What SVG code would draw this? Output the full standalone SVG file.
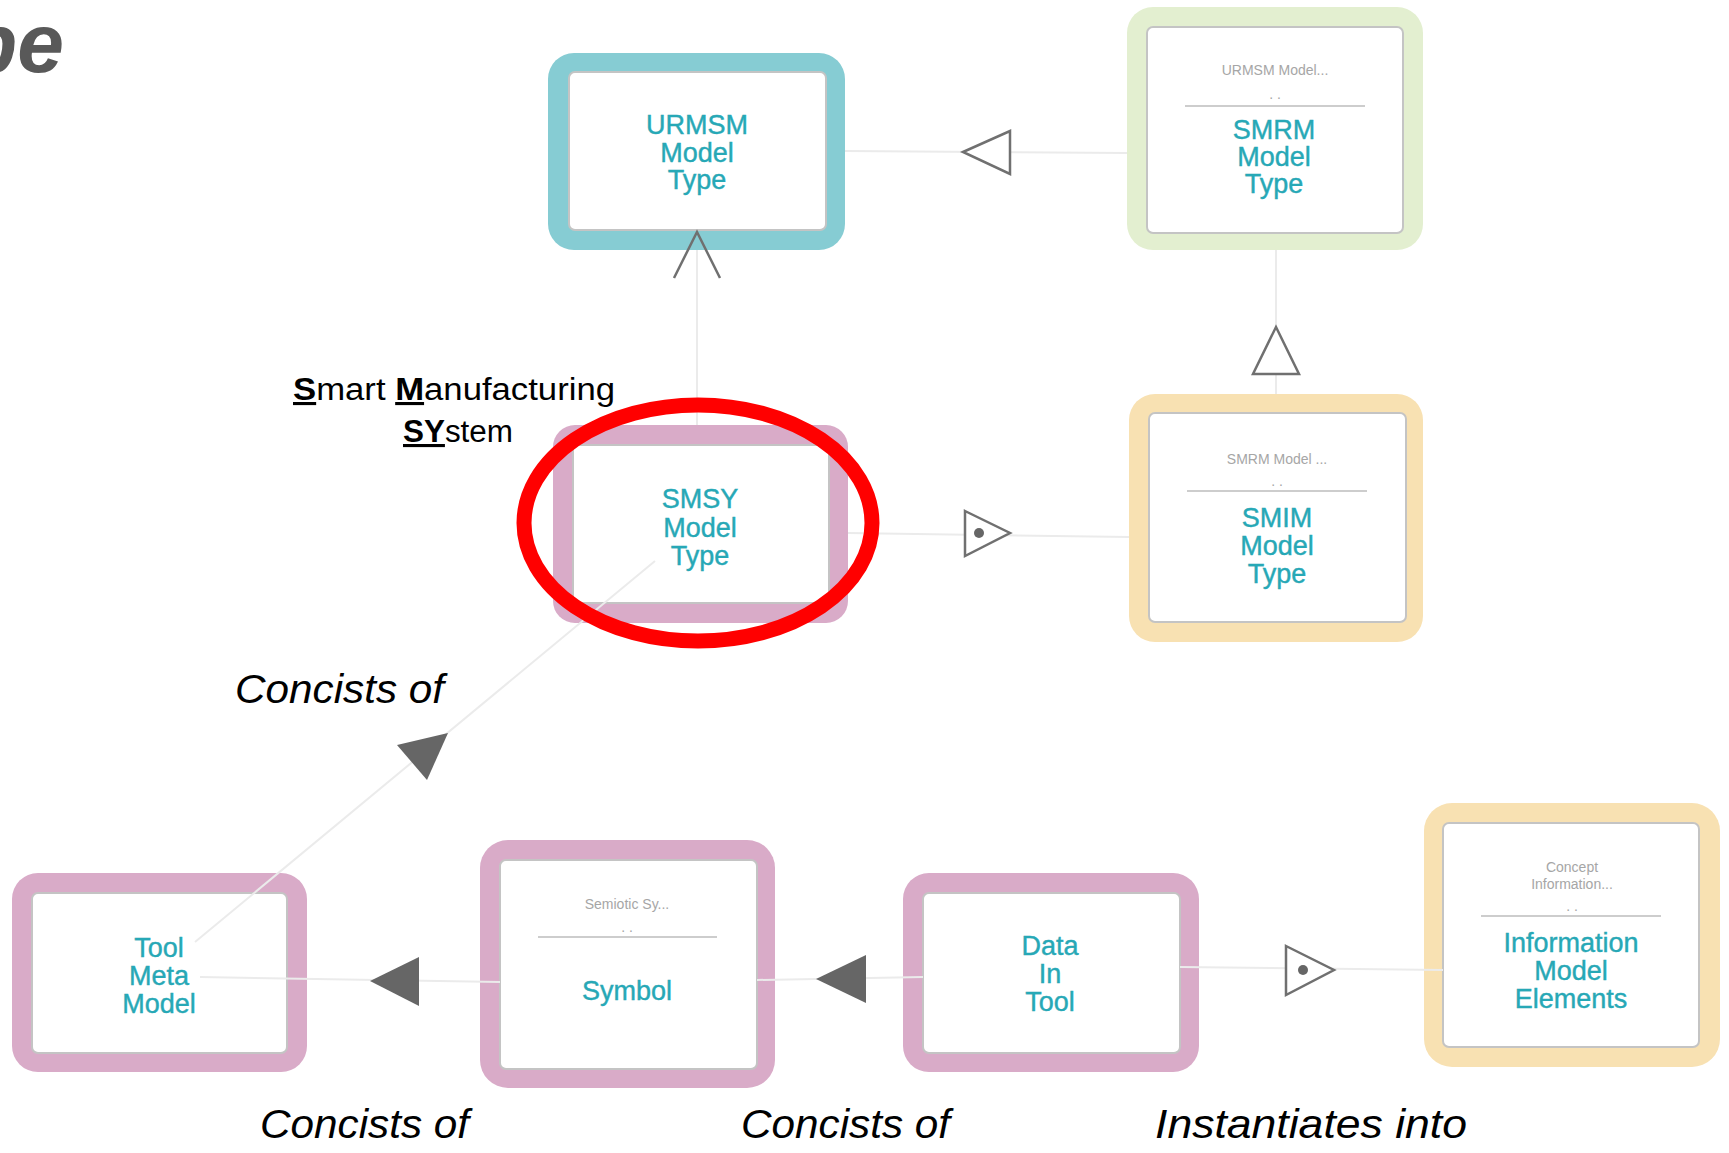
<svg xmlns="http://www.w3.org/2000/svg" width="1729" height="1153" viewBox="0 0 1729 1153">
<style>
.outer{stroke:none}
.pink{fill:#d9abc8}
.teal{fill:#86ccd3}
.green{fill:#e3efd0}
.peach{fill:#f8e1b2}
.inner{fill:#fff;stroke:#c4c4c4;stroke-width:2}
.lbl{font-family:"Liberation Sans",Arial,sans-serif;font-size:27px;fill:#27a8b6;stroke:#27a8b6;stroke-width:0.4;text-anchor:middle}
.sub{font-family:"Liberation Sans",Arial,sans-serif;font-size:14px;fill:#a6a6a6;text-anchor:middle}
.sep{stroke:#bdbdbd;stroke-width:1.5}
.conn{stroke:#ebebeb;stroke-width:2;fill:none}
.hollow{fill:#fff;stroke:#707070;stroke-width:2.5;stroke-linejoin:miter}
.solid{fill:#666;stroke:none}
.dot{fill:#666}
.note{font-family:"Liberation Sans",Arial,sans-serif;fill:#000}
.it{font-family:"Liberation Sans",Arial,sans-serif;font-style:italic;font-size:40px;fill:#000}
</style>

<text x="64" y="72" font-family="Liberation Sans, Arial, sans-serif" font-weight="bold" font-style="italic" font-size="84" fill="#595959" text-anchor="end">pe</text>

<g id="node-urmsm">
  <rect class="outer teal" x="548" y="53" width="297" height="197" rx="26"/>
  <rect class="inner" x="569" y="72" width="257" height="158" rx="6"/>
  <text class="lbl" x="697" y="134">URMSM</text>
  <text class="lbl" x="697" y="162">Model</text>
  <text class="lbl" x="697" y="189">Type</text>
</g>

<g id="node-smrm">
  <rect class="outer green" x="1127" y="7" width="296" height="243" rx="26"/>
  <rect class="inner" x="1147" y="27" width="256" height="206" rx="6"/>
  <text class="sub" x="1275" y="75">URMSM Model...</text>
  <text class="sub" x="1275" y="99">. .</text>
  <line class="sep" x1="1185" y1="106" x2="1365" y2="106"/>
  <text class="lbl" x="1274" y="139">SMRM</text>
  <text class="lbl" x="1274" y="166">Model</text>
  <text class="lbl" x="1274" y="193">Type</text>
</g>

<g id="node-smim">
  <rect class="outer peach" x="1129" y="394" width="294" height="248" rx="26"/>
  <rect class="inner" x="1149" y="413" width="257" height="209" rx="6"/>
  <text class="sub" x="1277" y="464">SMRM Model ...</text>
  <text class="sub" x="1277" y="486">. .</text>
  <line class="sep" x1="1187" y1="491" x2="1367" y2="491"/>
  <text class="lbl" x="1277" y="527">SMIM</text>
  <text class="lbl" x="1277" y="555">Model</text>
  <text class="lbl" x="1277" y="583">Type</text>
</g>

<g id="node-smsy">
  <rect class="outer pink" x="553" y="425" width="295" height="198" rx="22"/>
  <rect class="inner" x="573" y="445" width="256" height="158" rx="4"/>
  <text class="lbl" x="700" y="508">SMSY</text>
  <text class="lbl" x="700" y="537">Model</text>
  <text class="lbl" x="700" y="565">Type</text>
</g>

<g id="node-toolmeta">
  <rect class="outer pink" x="12" y="873" width="295" height="199" rx="26"/>
  <rect class="inner" x="32" y="893" width="255" height="160" rx="6"/>
  <text class="lbl" x="159" y="957">Tool</text>
  <text class="lbl" x="159" y="985">Meta</text>
  <text class="lbl" x="159" y="1013">Model</text>
</g>

<g id="node-symbol">
  <rect class="outer pink" x="480" y="840" width="295" height="248" rx="28"/>
  <rect class="inner" x="500" y="860" width="257" height="209" rx="6"/>
  <text class="sub" x="627" y="909">Semiotic Sy...</text>
  <text class="sub" x="627" y="932">. .</text>
  <line class="sep" x1="538" y1="937" x2="717" y2="937"/>
  <text class="lbl" x="627" y="1000" font-size="28">Symbol</text>
</g>

<g id="node-datatool">
  <rect class="outer pink" x="903" y="873" width="296" height="199" rx="26"/>
  <rect class="inner" x="923" y="893" width="257" height="160" rx="6"/>
  <text class="lbl" x="1050" y="955">Data</text>
  <text class="lbl" x="1050" y="983">In</text>
  <text class="lbl" x="1050" y="1011">Tool</text>
</g>

<g id="node-ime">
  <rect class="outer peach" x="1424" y="803" width="296" height="264" rx="28"/>
  <rect class="inner" x="1443" y="823" width="256" height="224" rx="6"/>
  <text class="sub" x="1572" y="872" font-size="13">Concept</text>
  <text class="sub" x="1572" y="889" font-size="13">Information...</text>
  <text class="sub" x="1572" y="911">. .</text>
  <line class="sep" x1="1481" y1="916" x2="1661" y2="916"/>
  <text class="lbl" x="1571" y="952" font-size="28">Information</text>
  <text class="lbl" x="1571" y="980" font-size="28">Model</text>
  <text class="lbl" x="1571" y="1008" font-size="28">Elements</text>
</g>

<g id="connectors">
  <line class="conn" x1="845" y1="151" x2="1127" y2="153"/>
  <polygon class="hollow" points="963,152 1010,131 1010,174"/>
  <line class="conn" x1="697" y1="425" x2="697" y2="250"/>
  <polyline points="674,278 697,232 720,278" fill="none" stroke="#707070" stroke-width="2.5"/>
  <line class="conn" x1="1276" y1="394" x2="1276" y2="250"/>
  <polygon class="hollow" points="1276,327 1299,374 1253,374"/>
  <line class="conn" x1="848" y1="533" x2="1129" y2="537"/>
  <polygon class="hollow" points="965,511 1010,533 965,556"/>
  <circle class="dot" cx="979" cy="533" r="5"/>
  <line class="conn" x1="195" y1="942" x2="655" y2="561"/>
  <polygon class="solid" points="397,745 448,733 427,780"/>
  <line class="conn" x1="200" y1="977" x2="500" y2="982"/>
  <polygon class="solid" points="370,981 419,957 419,1006"/>
  <line class="conn" x1="757" y1="980" x2="923" y2="977"/>
  <polygon class="solid" points="816,979 866,955 866,1003"/>
  <line class="conn" x1="1180" y1="967" x2="1443" y2="970"/>
  <polygon class="hollow" points="1286,946 1334,970 1286,995"/>
  <circle class="dot" cx="1303" cy="970" r="5"/>
</g>

<g id="annotations">
  <text class="note" x="293" y="400" font-size="31" textLength="322" lengthAdjust="spacingAndGlyphs"><tspan font-weight="bold" text-decoration="underline">S</tspan>mart <tspan font-weight="bold" text-decoration="underline">M</tspan>anufacturing</text>
  <text class="note" x="403" y="442" font-size="31" textLength="110" lengthAdjust="spacingAndGlyphs"><tspan font-weight="bold" text-decoration="underline">SY</tspan>stem</text>
  <ellipse cx="698" cy="523" rx="174" ry="118" fill="none" stroke="#ff0000" stroke-width="15"/>
  <text class="it" x="235" y="703" textLength="209" lengthAdjust="spacingAndGlyphs">Concists of</text>
  <text class="it" x="260" y="1138" textLength="209" lengthAdjust="spacingAndGlyphs">Concists of</text>
  <text class="it" x="741" y="1138" textLength="209" lengthAdjust="spacingAndGlyphs">Concists of</text>
  <text class="it" x="1155" y="1138" textLength="312" lengthAdjust="spacingAndGlyphs">Instantiates into</text>
</g>
</svg>
